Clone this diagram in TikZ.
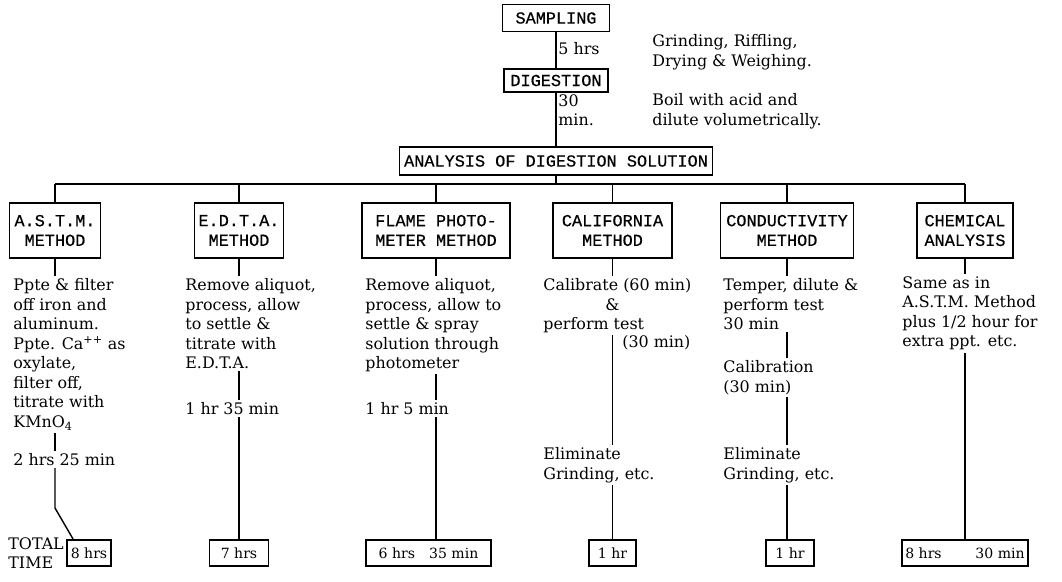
\documentclass[tikz,border=0pt]{standalone}
\usepackage{fontspec}
\setmainfont{DejaVu Serif}
\newfontfamily\capfont[FakeBold=0.5]{Liberation Mono}
\usetikzlibrary{calc}

\begin{document}
\begin{tikzpicture}[x=0.025cm,y=-0.025cm,
  every node/.style={font=\fontsize{11.3}{13.9}\selectfont,text=black,inner sep=1.5pt},
  note/.style={anchor=north west,align=left},
  capbox/.style={draw,line width=1.3pt,font=\capfont\fontsize{12}{14}\selectfont,align=center},
  methbox/.style={capbox,minimum height=1.375cm,inner sep=1pt},
  timebox/.style={draw,line width=1.3pt,font=\fontsize{10}{12}\selectfont,minimum height=0.65cm,inner sep=1pt},
  link/.style={line width=1pt}]
\path[use as bounding box,fill=white] (0,0) rectangle (1062,582);

% top chain
\node[capbox,minimum width=2.675cm,minimum height=0.675cm] (samp) at (556,18) {SAMPLING};
\node[capbox,minimum width=2.6cm,minimum height=0.575cm] (dig) at (556,80.5) {DIGESTION};
\node[capbox,minimum width=7.825cm,minimum height=0.7cm] (ana) at (556,161) {ANALYSIS OF DIGESTION SOLUTION};
\node[anchor=west] (t5) at (556,49) {5 hrs};
\node[note] (t30) at (556,92) {30\\min.};
\node[note] (n1) at (650,32) {Grinding, Riffling,\\Drying \& Weighing.};
\node[note] (n2) at (650,91) {Boil with acid and\\dilute volumetrically.};

% methods
\node[methbox,minimum width=2.275cm] (astm) at (55,230.5) {A.S.T.M.\\METHOD};
\node[methbox,minimum width=2.225cm] (edta) at (239,230.5) {E.D.T.A.\\METHOD};
\node[methbox,minimum width=3.7cm] (flame) at (436,230.5) {FLAME PHOTO-\\METER METHOD};
\node[methbox,minimum width=2.975cm] (calif) at (612.5,230.5) {CALIFORNIA\\METHOD};
\node[methbox,minimum width=3.325cm] (cond) at (787,230.5) {CONDUCTIVITY\\METHOD};
\node[methbox,minimum width=2.4cm] (chem) at (965,230.5) {CHEMICAL\\ANALYSIS};

% steps
\node[note] (tx1) at (11,276) {Ppte \& filter\\off iron and\\aluminum.\\Ppte. Ca\textsuperscript{++} as\\oxylate,\\filter off,\\titrate with\\KMnO\textsubscript{4}};
\node[note] (tm1) at (11,451) {2 hrs 25 min};
\node[note] (tx2) at (183,276) {Remove aliquot,\\process, allow\\to settle \&\\titrate with\\E.D.T.A.};
\node[note] (tm2) at (183,400) {1 hr 35 min};
\node[note] (tx3) at (363,276) {Remove aliquot,\\process, allow to\\settle \& spray\\solution through\\photometer};
\node[note] (tm3) at (363,400) {1 hr 5 min};
\node[note] (tx4) at (541,276) {Calibrate (60 min)\\\hspace*{3.9em}\&\\perform test};
\node[note] (tx4b) at (620,333) {(30 min)};
\node[note] (el4) at (541,445) {Eliminate\\Grinding, etc.};
\node[note] (tx5) at (721,276) {Temper, dilute \&\\perform test\\30 min};
\node[note] (cb5) at (721,358) {Calibration\\(30 min)};
\node[note] (el5) at (721,445) {Eliminate\\Grinding, etc.};
\node[note] (tx6) at (900,274) {Same as in\\A.S.T.M. Method\\plus 1/2 hour for\\extra ppt. etc.};

% totals
\node[timebox,minimum width=1.1cm] (b1) at (89,553) {8 hrs};
\node[note] (tot) at (6,535) {TOTAL\\TIME};
\node[timebox,minimum width=1.475cm] (b2) at (239,553) {7 hrs};
\node[timebox,minimum width=3.125cm] (b3) at (428.5,553) {6 hrs\hspace{1em}35 min};
\node[timebox,minimum width=1.175cm] (b4) at (612.5,553) {1 hr};
\node[timebox,minimum width=1.2cm] (b5) at (790,553) {1 hr};
\node[timebox,minimum width=3.15cm] (b6) at (965,553) {8 hrs\hspace{2.4em}30 min};

% connectors
\coordinate (bus) at (0,184);
\coordinate (k1) at (54,508);
\draw[link] (samp) -- (dig);
\draw[link] (dig) -- (ana);
\draw[link] (ana.south) -- (ana.south |- bus);
\draw[link] (astm.north |- bus) -- (chem.north |- bus);
\foreach \m in {astm,edta,flame,calif,cond,chem}
  \draw[link] (\m.north |- bus) -- (\m.north);
\foreach \m/\t in {astm/tx1,edta/tx2,flame/tx3,calif/tx4,cond/tx5,chem/tx6}
  \draw[link] (\m.south) -- (\m.south |- \t.north);
\draw[link] (astm.south |- tx1.south) -- (astm.south |- tm1.north);
\draw[link] (astm.south |- tm1.south) -- (astm.south |- k1) -- ($(b1.north west)+(7,0)$);
\draw[link] (edta.south |- tx2.south) -- (edta.south |- tm2.north);
\draw[link] (edta.south |- tm2.south) -- (b2.north);
\draw[link] (flame.south |- tx3.south) -- (flame.south |- tm3.north);
\draw[link] (flame.south |- tm3.south) -- (flame.south |- b3.north);
\draw[link] (calif.south |- tx4.south) -- (calif.south |- el4.north);
\draw[link] (calif.south |- el4.south) -- (b4.north);
\draw[link] (cond.south |- tx5.south) -- (cond.south |- cb5.north);
\draw[link] (cond.south |- cb5.south) -- (cond.south |- el5.north);
\draw[link] (cond.south |- el5.south) -- (cond.south |- b5.north);
\draw[link] (chem.south |- tx6.south) -- (b6.north);

\end{tikzpicture}
\end{document}
